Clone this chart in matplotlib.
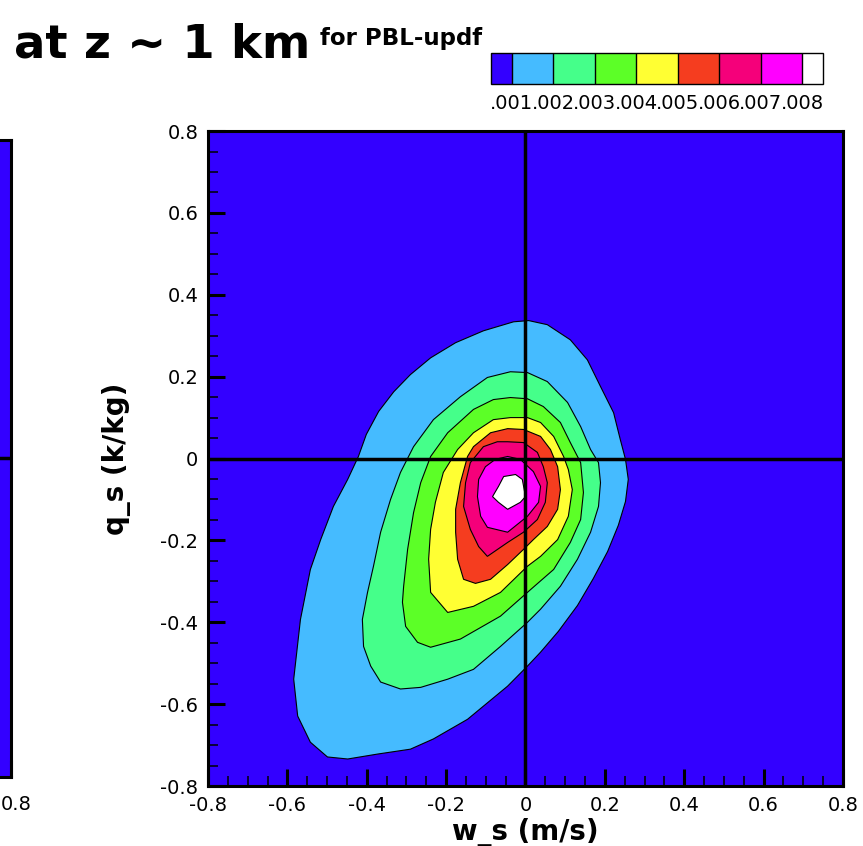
import matplotlib
matplotlib.use("Agg")
import matplotlib.pyplot as plt
from matplotlib.colors import ListedColormap, BoundaryNorm
from matplotlib.colorbar import Colorbar
from matplotlib.ticker import MultipleLocator

plt.rcParams["font.family"] = ["DejaVu Sans"]

# pdf levels and the colour of each band (below .001 ... above .008)
levels = [0.001, 0.002, 0.003, 0.004, 0.005, 0.006, 0.007, 0.008]
band_colors = ["#3300ff", "#45bbff", "#45ff8a", "#5cff27", "#ffff33",
               "#f53d1f", "#f5007a", "#ff00ff", "#ffffff"]

# contour outlines, (w_s, q_s) per level
c001_w = [0.008, 0.055, 0.113, 0.156, 0.189, 0.222, 0.239, 0.252, 0.259, 0.252,
          0.234, 0.207, 0.171, 0.131, 0.083, 0.038, 0.005, -0.045, -0.146, -0.232,
          -0.290, -0.373, -0.448, -0.499, -0.542, -0.574, -0.584, -0.567, -0.542, -0.516,
          -0.484, -0.448, -0.421, -0.401, -0.370, -0.332, -0.290, -0.239, -0.176, -0.106,
          -0.030]
c001_q = [0.337, 0.327, 0.290, 0.241, 0.176, 0.112, 0.046, -0.002, -0.051, -0.105,
          -0.163, -0.227, -0.293, -0.359, -0.422, -0.473, -0.507, -0.556, -0.637, -0.685,
          -0.710, -0.722, -0.734, -0.729, -0.693, -0.629, -0.539, -0.393, -0.271, -0.198,
          -0.117, -0.051, 0.005, 0.059, 0.115, 0.163, 0.205, 0.246, 0.283, 0.312,
          0.334]

c002_w = [-0.038, 0.005, 0.055, 0.106, 0.139, 0.164, 0.184, 0.189, 0.184, 0.164,
          0.131, 0.088, 0.038, 0.005, -0.063, -0.131, -0.196, -0.264, -0.315, -0.365,
          -0.390, -0.408, -0.411, -0.398, -0.383, -0.365, -0.340, -0.315, -0.282, -0.232,
          -0.164, -0.096]
c002_q = [0.212, 0.210, 0.188, 0.137, 0.078, 0.022, -0.010, -0.059, -0.117, -0.180,
          -0.246, -0.312, -0.368, -0.400, -0.459, -0.515, -0.539, -0.559, -0.563, -0.546,
          -0.507, -0.459, -0.393, -0.327, -0.263, -0.180, -0.100, -0.034, 0.029, 0.095,
          0.151, 0.198]

c003_w = [-0.038, 0.005, 0.045, 0.088, 0.113, 0.139, 0.146, 0.139, 0.113, 0.071,
          0.013, -0.063, -0.164, -0.239, -0.272, -0.302, -0.310, -0.307, -0.297, -0.282,
          -0.264, -0.239, -0.196, -0.131, -0.081]
c003_q = [0.149, 0.146, 0.127, 0.088, 0.039, -0.010, -0.083, -0.149, -0.205, -0.271,
          -0.320, -0.385, -0.441, -0.461, -0.449, -0.410, -0.351, -0.312, -0.222, -0.132,
          -0.059, 0.005, 0.063, 0.120, 0.144]

c004_w = [-0.038, 0.005, 0.038, 0.071, 0.096, 0.108, 0.118, 0.108, 0.081, 0.038,
          0.005, -0.063, -0.131, -0.196, -0.239, -0.244, -0.239, -0.227, -0.207, -0.171,
          -0.131, -0.081]
c004_q = [0.100, 0.100, 0.088, 0.054, 0.005, -0.027, -0.076, -0.141, -0.198, -0.239,
          -0.263, -0.327, -0.361, -0.376, -0.327, -0.246, -0.173, -0.107, -0.034, 0.022,
          0.063, 0.095]

c005_w = [-0.045, -0.005, 0.038, 0.063, 0.081, 0.088, 0.081, 0.055, 0.020, -0.005,
          -0.045, -0.088, -0.126, -0.156, -0.171, -0.176, -0.176, -0.164, -0.146, -0.131,
          -0.088]
c005_q = [0.073, 0.071, 0.054, 0.022, -0.020, -0.076, -0.124, -0.166, -0.198, -0.222,
          -0.259, -0.295, -0.305, -0.295, -0.246, -0.180, -0.124, -0.059, 0.005, 0.029,
          0.063]

c006_w = [-0.045, -0.005, 0.030, 0.045, 0.055, 0.050, 0.030, -0.005, -0.045, -0.096,
          -0.118, -0.139, -0.156, -0.151, -0.139, -0.106, -0.071]
c006_q = [0.041, 0.039, 0.015, -0.020, -0.059, -0.107, -0.149, -0.180, -0.205, -0.239,
          -0.215, -0.173, -0.117, -0.059, -0.010, 0.029, 0.041]

c007_w = [-0.045, -0.013, 0.020, 0.038, 0.033, 0.005, -0.045, -0.096, -0.113, -0.121,
          -0.118, -0.101, -0.076]
c007_q = [0.005, -0.002, -0.032, -0.068, -0.107, -0.141, -0.180, -0.168, -0.141, -0.093,
          -0.051, -0.020, -0.002]

c008_w = [-0.055, -0.025, -0.008, 0.000, -0.013, -0.045, -0.068, -0.083, -0.068]
c008_q = [-0.044, -0.039, -0.051, -0.093, -0.107, -0.124, -0.107, -0.093, -0.068]

outlines = [(c001_w, c001_q), (c002_w, c002_q), (c003_w, c003_q), (c004_w, c004_q),
            (c005_w, c005_q), (c006_w, c006_q), (c007_w, c007_q), (c008_w, c008_q)]


def style_axes(ax):
    ax.set_xlim(-0.8, 0.8)
    ax.set_ylim(-0.8, 0.8)
    ax.set_facecolor(band_colors[0])
    ax.xaxis.set_major_locator(MultipleLocator(0.2))
    ax.yaxis.set_major_locator(MultipleLocator(0.2))
    ax.xaxis.set_minor_locator(MultipleLocator(0.05))
    ax.yaxis.set_minor_locator(MultipleLocator(0.05))
    ax.tick_params(which="both", direction="in", top=False, right=False)
    ax.tick_params(which="major", length=12, width=2.2, labelsize=14, pad=7)
    ax.tick_params(which="minor", length=7, width=1.1)
    ax.xaxis.set_major_formatter(lambda v, p: f"{v:g}")
    ax.yaxis.set_major_formatter(lambda v, p: f"{v:g}")
    for sp in ax.spines.values():
        sp.set_linewidth(2.2)
    ax.axhline(0, color="black", lw=2.5, zorder=5)
    ax.axvline(0, color="black", lw=2.5, zorder=5)


fig = plt.figure(figsize=(8.63, 8.46), dpi=100)

# neighbouring panel, only its right edge shows
ax0 = fig.add_axes([-0.7231, 0.0816, 0.7358, 0.7530])
style_axes(ax0)
ax0.tick_params(labelleft=False, labelbottom=False)
fig.text(1 / 863, 1 - 804 / 846, "0.8", fontsize=14, ha="left", va="center")

ax = fig.add_axes([0.2410, 0.0709, 0.7358, 0.7742])
style_axes(ax)
for (w, q), col in zip(outlines, band_colors[1:]):
    ax.fill(w, q, facecolor=col, edgecolor="black", lw=0.8, zorder=2)

ax.set_xlabel("w_s (m/s)", fontsize=20, fontweight="bold", labelpad=2)
ax.set_ylabel("q_s (k/kg)", fontsize=20, fontweight="bold", labelpad=21)

# colour legend
cax = fig.add_axes([0.5689, 0.9007, 0.3847, 0.0366])
cmap = ListedColormap(band_colors[1:-1]).with_extremes(under=band_colors[0], over=band_colors[-1])
norm = BoundaryNorm(levels, cmap.N)
cb = Colorbar(cax, cmap=cmap, norm=norm, orientation="horizontal", extend="both",
              extendrect=True, extendfrac=0.5 / (len(levels) - 1), drawedges=True,
              ticks=levels)
cb.set_ticklabels([f"{v:.3f}"[1:] for v in levels])
cb.outline.set_linewidth(1.0)
cb.dividers.set_linewidth(1.0)
cb.ax.tick_params(length=0, labelsize=14, pad=7)

fig.text(14 / 863, 1 - 58 / 846, "at z ~ 1 km", fontsize=33.5, fontweight="bold", va="baseline")
fig.text(320 / 863, 1 - 45 / 846, "for PBL-updf", fontsize=16.5, fontweight="bold", va="baseline")

fig.savefig("out.png", dpi=100)
